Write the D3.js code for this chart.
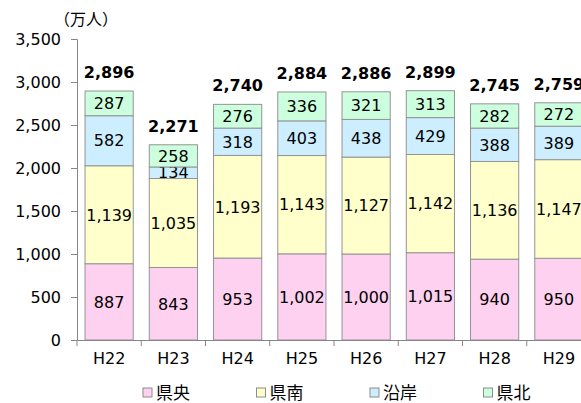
<!DOCTYPE html>
<html>
<head>
<meta charset="utf-8">
<script src="https://cdn.jsdelivr.net/npm/d3@7"></script>
<style>
  body { margin: 0; background: #fff; }
  text { font-family: "DejaVu Sans", Verdana, "Noto Sans CJK JP", sans-serif; fill: #000; }
  .jp { font-family: "Noto Sans CJK JP", sans-serif; }
</style>
</head>
<body>
<script>
const years = ["H22", "H23", "H24", "H25", "H26", "H27", "H28", "H29"];
const kenou = [887, 843, 953, 1002, 1000, 1015, 940, 950];
const kennan = [1139, 1035, 1193, 1143, 1127, 1142, 1136, 1147];
const engan = [582, 134, 318, 403, 438, 429, 388, 389];
const kenhoku = [287, 258, 276, 336, 321, 313, 282, 272];
const totals = [2896, 2271, 2740, 2884, 2886, 2899, 2745, 2759];
const seriesNames = ["県央", "県南", "沿岸", "県北"];
const yTicks = [0, 500, 1000, 1500, 2000, 2500, 3000, 3500];

const colors = ["#ffd1f0", "#ffffcc", "#cceeff", "#ccffdd"];
const width = 581, height = 403;
const fmt = d3.format(",");

const svg = d3.select("body").append("svg")
  .attr("width", width)
  .attr("height", height);

const x = d3.scaleBand()
  .domain(years)
  .range([77, 77 + 8 * 64.25])
  .paddingInner(0.25)
  .paddingOuter(0.125);

const y = d3.scaleLinear()
  .domain([0, 3500])
  .range([340, 39]);

const rows = years.map((yr, i) => ({
  year: yr, 県央: kenou[i], 県南: kennan[i], 沿岸: engan[i], 県北: kenhoku[i]
}));
const stacked = d3.stack().keys(seriesNames)(rows);

// Bars
const layers = svg.append("g")
  .selectAll("g")
  .data(stacked)
  .join("g")
  .attr("fill", (d, i) => colors[i]);

layers.selectAll("rect")
  .data(d => d)
  .join("rect")
  .attr("x", d => x(d.data.year))
  .attr("y", d => y(d[1]))
  .attr("width", x.bandwidth())
  .attr("height", d => y(d[0]) - y(d[1]))
  .attr("stroke", "#949494")
  .attr("stroke-width", 1);

layers.selectAll("text")
  .data(d => d)
  .join("text")
  .attr("x", d => x(d.data.year) + x.bandwidth() / 2)
  .attr("y", d => (y(d[0]) + y(d[1])) / 2)
  .attr("dy", "0.36em")
  .attr("text-anchor", "middle")
  .attr("font-size", 16)
  .text(d => fmt(d[1] - d[0]));

// Totals
svg.append("g")
  .selectAll("text")
  .data(years)
  .join("text")
  .attr("x", d => x(d) + x.bandwidth() / 2)
  .attr("y", (d, i) => y(totals[i]) - 13)
  .attr("text-anchor", "middle")
  .attr("font-size", 16)
  .attr("font-weight", "bold")
  .text((d, i) => fmt(totals[i]));

// Y axis
const yAxis = svg.append("g")
  .attr("transform", "translate(77,0)")
  .call(d3.axisLeft(y).tickValues(yTicks).tickSize(6).tickPadding(10).tickFormat(fmt));
yAxis.selectAll("text").attr("font-size", 16).attr("font-family", null);
yAxis.selectAll("line, path").attr("stroke", "#868686");

// X axis
const xAxis = svg.append("g")
  .attr("transform", "translate(0,340)")
  .call(d3.axisBottom(x).tickSize(0).tickPadding(13).tickSizeOuter(0));
xAxis.selectAll("text").attr("font-size", 16).attr("font-family", null);
xAxis.select("path").attr("stroke", "#868686");
xAxis.selectAll(".tick line").remove();
xAxis.selectAll(".bound")
  .data(years)
  .join("line")
  .attr("class", "bound")
  .attr("x1", d => x(d) - x.step() * x.paddingInner() / 2)
  .attr("x2", d => x(d) - x.step() * x.paddingInner() / 2)
  .attr("y1", 0)
  .attr("y2", 6)
  .attr("stroke", "#868686");

// Unit label
svg.append("text")
  .attr("class", "jp")
  .attr("x", 54)
  .attr("y", 25)
  .attr("font-size", 16)
  .text("（万人）");

// Legend
const legend = svg.append("g")
  .selectAll("g")
  .data(seriesNames)
  .join("g")
  .attr("transform", (d, i) => `translate(${143 + i * 113.5},388)`);

legend.append("rect")
  .attr("width", 9)
  .attr("height", 9)
  .attr("fill", (d, i) => colors[i])
  .attr("stroke", "#8c8c8c");

legend.append("text")
  .attr("class", "jp")
  .attr("x", 13)
  .attr("y", 5)
  .attr("dy", "0.38em")
  .attr("font-size", 17)
  .text(d => d);
</script>
</body>
</html>
